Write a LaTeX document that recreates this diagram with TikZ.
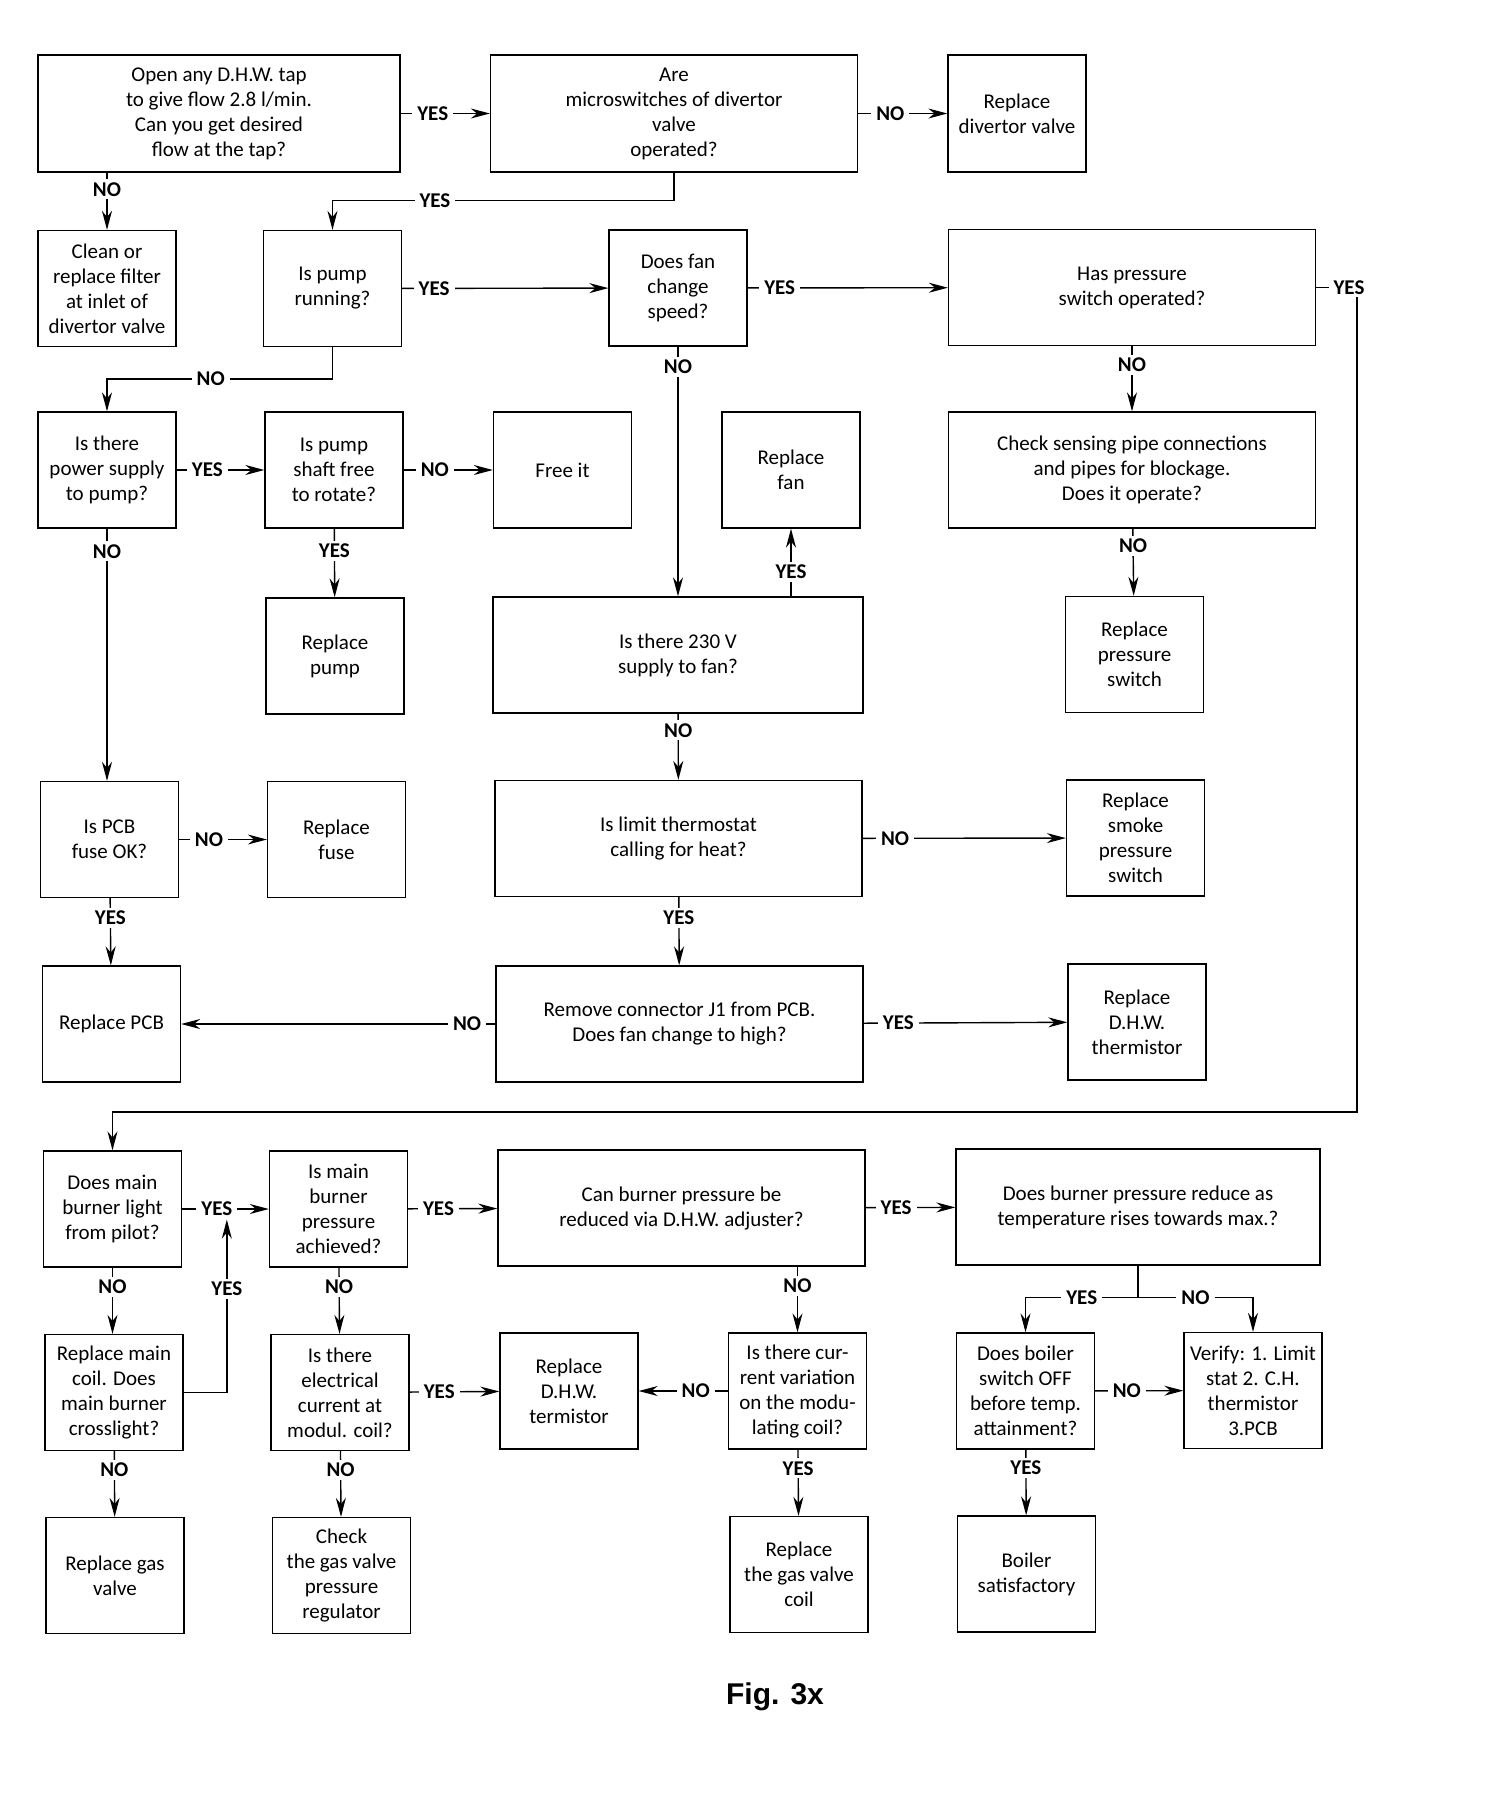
\documentclass[tikz,border=0pt]{standalone}
\usepackage{fontspec}
\setmainfont{Carlito}
\newfontfamily\figfont{Liberation Sans}
\usetikzlibrary{arrows.meta}

\tikzset{
  cell/.style={draw, line width=1.3pt, align=center, minimum width=138, minimum height=116,
    inner sep=2pt, font=\fontsize{21}{25}\selectfont},
  wide/.style={cell, minimum width=367},
  arr/.style={line width=1.4pt, -{Stealth[length=19pt,width=10pt]}},
  lbl/.style={fill=white, inner xsep=5pt, inner ysep=3pt, font=\bfseries\fontsize{21}{25}\selectfont},
}

\begin{document}
\begin{tikzpicture}[x=1pt,y=-1pt]
\useasboundingbox[fill=white] (0,0) rectangle (1500,1794);

% first rows
\node[wide, minimum width=362, minimum height=117] (tap) at (219,113.5) {Open any D.H.W. tap\\to give flow 2.8 l/min.\\Can you get desired\\flow at the tap?};
\node[wide, minimum height=117] (micro) at (674,113.5) {Are\\microswitches of divertor\\valve\\operated?};
\node[cell, minimum height=117] (divert) at (1017,113.5) {Replace\\divertor valve};

\node[cell] (filter) at (107,288.5) {Clean or\\replace filter\\at inlet of\\divertor valve};
\node[cell] (pump) at (332.5,288.5) {Is pump\\running?};
\node[cell] (fan) at (678,288) {Does fan\\change\\speed?};
\node[wide] (press) at (1132,287.5) {Has pressure\\switch operated?};

\node[cell] (power) at (107,470) {Is there\\power supply\\to pump?};
\node[cell] (shaft) at (334,470) {Is pump\\shaft free\\to rotate?};
\node[cell] (free) at (562.5,470) {Free it};
\node[cell] (repfan) at (791,470) {Replace\\fan};
\node[wide] (sensing) at (1132,470) {Check sensing pipe connections\\and pipes for blockage.\\Does it operate?};

\node[cell] (reppump) at (335,656) {Replace\\pump};
\node[wide, minimum width=370] (volt) at (678,655) {Is there 230 V\\supply to fan?};
\node[cell] (reppress) at (1134.5,654.5) {Replace\\pressure\\switch};

\node[cell] (fuse) at (109.5,839.5) {Is PCB\\fuse OK?};
\node[cell] (repfuse) at (336.5,839.5) {Replace\\fuse};
\node[wide] (limit) at (678.5,838.5) {Is limit thermostat\\calling for heat?};
\node[cell] (smoke) at (1135.5,838) {Replace\\smoke\\pressure\\switch};

\node[cell] (pcb) at (111.5,1024) {Replace PCB};
\node[wide] (conn) at (679.5,1024) {Remove connector J1 from PCB.\\Does fan change to high?};
\node[cell] (thermo) at (1137,1022) {Replace\\D.H.W.\\thermistor};

% burner rows
\node[cell] (light) at (112.5,1209) {Does main\\burner light\\from pilot?};
\node[cell] (burner) at (338.5,1209) {Is main\\burner\\pressure\\achieved?};
\node[wide] (adjust) at (681.5,1208) {Can burner pressure be\\reduced via D.H.W. adjuster?};
\node[wide, minimum width=364] (reduce) at (1138,1207) {Does burner pressure reduce as\\temperature rises towards max.?};

\node[cell] (coil) at (114,1392.5) {Replace main\\coil. Does\\main burner\\crosslight?};
\node[cell] (current) at (340,1392.5) {Is there\\electrical\\current at\\modul. coil?};
\node[cell] (termis) at (569,1391) {Replace\\D.H.W.\\termistor};
\node[cell] (variation) at (797.5,1391) {Is there cur-\\rent variation\\on the modu-\\lating coil?};
\node[cell] (switchoff) at (1025.5,1391) {Does boiler\\switch OFF\\before temp.\\attainment?};
\node[cell] (verify) at (1253,1390.5) {Verify: 1. Limit\\stat 2. C.H.\\thermistor\\3.PCB};

\node[cell] (gasvalve) at (115,1575.5) {Replace gas\\valve};
\node[cell] (regulator) at (341.5,1575.5) {Check\\the gas valve\\pressure\\regulator};
\node[cell] (valvecoil) at (799,1574.5) {Replace\\the gas valve\\coil};
\node[cell] (ok) at (1026.5,1574) {Boiler\\satisfactory};

% connectors
\draw[arr] (tap) -- node[lbl,pos=0.36]{YES} (micro);
\draw[arr] (micro) -- node[lbl,pos=0.36]{NO} (divert);
\draw[arr] (filter.north |- tap.south) -- node[lbl,pos=0.29]{NO} (filter.north);
\draw[arr] (micro.south) -- ++(0,28) -| node[lbl,pos=0.35]{YES} (pump.north);
\draw[arr] (pump) -- node[lbl,pos=0.155]{YES} (fan);
\draw[arr] (fan) -- node[lbl,pos=0.16]{YES} (press);
\coordinate (back) at (1357,1112);
\draw[arr] (press.east) -| node[lbl,pos=0.5,xshift=-8pt]{YES} (back) -| (light.north);
\draw[arr] (pump.south) -- ++(0,32) -| node[lbl,pos=0.27]{NO} (power.north);
\draw[arr] (fan) -- node[lbl,pos=0.08]{NO} (volt);
\draw[arr] (press) -- node[lbl,pos=0.29]{NO} (sensing);

\draw[arr] (power) -- node[lbl,pos=0.35]{YES} (shaft);
\draw[arr] (shaft) -- node[lbl,pos=0.35]{NO} (free);
\draw[arr] (shaft) -- node[lbl,pos=0.32]{YES} (reppump);
\draw[arr] (volt.north -| repfan) -- node[lbl,pos=0.36]{YES} (repfan);
\draw[arr] (sensing) -- node[lbl,pos=0.26]{NO} (reppress);
\draw[arr] (power.south) -- node[lbl,pos=0.09]{NO} (power.south |- fuse.north);
\draw[arr] (volt) -- node[lbl,pos=0.25]{NO} (limit);

\draw[arr] (fuse) -- node[lbl,pos=0.34]{NO} (repfuse);
\draw[arr] (limit) -- node[lbl,pos=0.16]{NO} (smoke);
\draw[arr] (fuse) -- node[lbl,pos=0.29]{YES} (pcb);
\draw[arr] (limit) -- node[lbl,pos=0.3]{YES} (conn);
\draw[arr] (conn) -- node[lbl,pos=0.09]{NO} (pcb);
\draw[arr] (conn) -- node[lbl,pos=0.17]{YES} (thermo);

\draw[arr] (light) -- node[lbl,pos=0.4] (yl) {YES} (burner);
\draw[arr] (burner) -- node[lbl,pos=0.34]{YES} (adjust);
\draw[arr] (adjust) -- node[lbl,pos=0.34]{YES} (reduce);
\draw[arr] (light.south) -- node[lbl,pos=0.29]{NO} (light.south |- coil.north);
\draw[arr] (coil.east) -| node[lbl,pos=0.8]{YES} ([xshift=10pt]yl.south);
\draw[arr] (burner) -- node[lbl,pos=0.29]{NO} (current);
\draw[arr] (adjust.south -| variation) -- node[lbl,pos=0.29]{NO} (variation);
\draw[arr] (current) -- node[lbl,pos=0.33]{YES} (termis);
\draw[arr] (variation) -- node[lbl,pos=0.36]{NO} (termis);
\draw[line width=1.4pt] (reduce.south) -- ++(0,32) coordinate (split);
\draw[arr] (split) -| node[lbl,pos=0.25]{YES} (switchoff.north);
\draw[arr] (split) -| node[lbl,pos=0.25]{NO} (verify.north);
\draw[arr] (switchoff) -- node[lbl,pos=0.36]{NO} (verify);

\draw[arr] (coil) -- node[lbl,pos=0.28]{NO} (gasvalve);
\draw[arr] (current) -- node[lbl,pos=0.28]{NO} (regulator);
\draw[arr] (variation) -- node[lbl,pos=0.28]{YES} (valvecoil);
\draw[arr] (switchoff) -- node[lbl,pos=0.28]{YES} (ok);

\node[font=\figfont\bfseries\fontsize{30}{36}\selectfont] (fig) at (775,1697) {Fig. 3x};
\end{tikzpicture}
\end{document}
